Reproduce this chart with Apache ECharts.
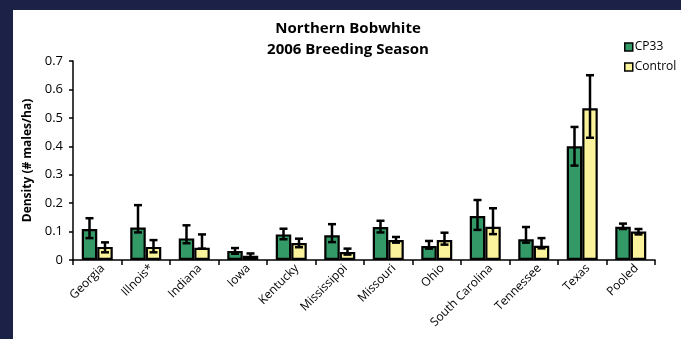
<!DOCTYPE html>
<html>
<head>
<meta charset="utf-8">
<script src="https://cdn.jsdelivr.net/npm/echarts@6/dist/echarts.min.js"></script>
<style>
  html, body { margin: 0; padding: 0; background: #1c2148; }
  #chart { position: absolute; left: 13px; top: 10px; width: 668px; height: 329px; background: #fff; }
</style>
</head>
<body>
<div id="chart"></div>
<script>
// categories and values
const states = ['Georgia', 'Illnois*', 'Indiana', 'Iowa', 'Kentucky', 'Mississippi', 'Missouri', 'Ohio', 'South Carolina', 'Tennessee', 'Texas', 'Pooled']
const cp33 = [0.109, 0.114, 0.076, 0.032, 0.090, 0.087, 0.116, 0.049, 0.155, 0.073, 0.400, 0.117]
const cp33Low = [0.077, 0.097, 0.059, 0.022, 0.073, 0.063, 0.097, 0.040, 0.106, 0.061, 0.332, 0.109]
const cp33High = [0.147, 0.193, 0.122, 0.042, 0.110, 0.126, 0.138, 0.067, 0.211, 0.116, 0.468, 0.128]
const control = [0.046, 0.046, 0.043, 0.015, 0.060, 0.028, 0.070, 0.070, 0.117, 0.050, 0.534, 0.100]
const controlLow = [0.027, 0.027, 0.040, 0.008, 0.045, 0.019, 0.061, 0.054, 0.091, 0.041, 0.430, 0.090]
const controlHigh = [0.062, 0.070, 0.090, 0.023, 0.075, 0.040, 0.081, 0.096, 0.182, 0.077, 0.650, 0.109]
const yTicks = [0, 0.1, 0.2, 0.3, 0.4, 0.5, 0.6, 0.7]

const BAR_W = 15.5
const FONT = '"Open Sans", "DejaVu Sans", sans-serif'

const chart = echarts.init(document.getElementById('chart'))

// error bar drawn with custom series, offset to sit on its own bar
const errorSeries = (low, high, side) => ({
  type: 'custom',
  silent: true,
  z: 10,
  data: states.map((s, i) => [i, low[i], high[i]]),
  renderItem: (params, api) => {
    const off = side * BAR_W / 2
    const lo = api.coord([api.value(0), api.value(1)])
    const hi = api.coord([api.value(0), api.value(2)])
    const x = lo[0] + off
    const cap = 4
    const style = { stroke: '#000', lineWidth: 2.5 }
    return {
      type: 'group',
      children: [
        { type: 'line', shape: { x1: x, y1: lo[1], x2: x, y2: hi[1] }, style },
        { type: 'line', shape: { x1: x - cap, y1: lo[1], x2: x + cap, y2: lo[1] }, style },
        { type: 'line', shape: { x1: x - cap, y1: hi[1], x2: x + cap, y2: hi[1] }, style }
      ]
    }
  }
})

const option = {
  animation: false,
  title: {
    text: 'Northern Bobwhite\n2006 Breeding Season',
    left: 330,
    textAlign: 'center',
    top: 3,
    textStyle: { fontFamily: FONT, fontWeight: 'bold', fontSize: 15, lineHeight: 21, color: '#000' }
  },
  legend: {
    orient: 'vertical',
    left: 606,
    top: 26,
    itemWidth: 8,
    itemHeight: 8,
    itemGap: 8,
    icon: 'rect',
    data: ['CP33', 'Control'],
    itemStyle: { borderColor: '#000', borderWidth: 1.5 },
    textStyle: { fontFamily: FONT, fontSize: 12, color: '#000', padding: [0, 0, 0, -3] }
  },
  grid: { left: 60, right: 26, top: 51, bottom: 79 },
  xAxis: {
    type: 'category',
    data: states,
    axisLine: { lineStyle: { color: '#000', width: 1.5 } },
    axisTick: { show: true, length: 5, lineStyle: { color: '#000', width: 1.5 } },
    axisLabel: {
      rotate: 45, interval: 0, color: '#000', fontFamily: FONT, fontSize: 12, margin: 12,
      padding: [0, -8, 0, 0]
    }
  },
  yAxis: {
    type: 'value',
    min: 0,
    max: yTicks[yTicks.length - 1],
    interval: 0.1,
    name: 'Density (# males/ha)',
    nameLocation: 'middle',
    nameGap: 33,
    nameTextStyle: { fontFamily: FONT, fontWeight: 'bold', fontSize: 12, color: '#000' },
    axisLine: { show: true, lineStyle: { color: '#000', width: 1.5 } },
    axisTick: { show: true, length: 4, lineStyle: { color: '#000', width: 1.5 } },
    axisLabel: { color: '#000', fontFamily: FONT, fontSize: 13, margin: 10, formatter: v => String(+v.toFixed(1)) },
    splitLine: { show: false }
  },
  series: [
    {
      name: 'CP33', type: 'bar', data: cp33, barWidth: BAR_W, barGap: '0%',
      itemStyle: { color: '#339966', borderColor: '#000', borderWidth: 2.2 }
    },
    {
      name: 'Control', type: 'bar', data: control, barWidth: BAR_W,
      itemStyle: { color: '#fbf39b', borderColor: '#000', borderWidth: 2.2 }
    },
    errorSeries(cp33Low, cp33High, -1),
    errorSeries(controlLow, controlHigh, 1)
  ]
}

chart.setOption(option)
</script>
</body>
</html>
